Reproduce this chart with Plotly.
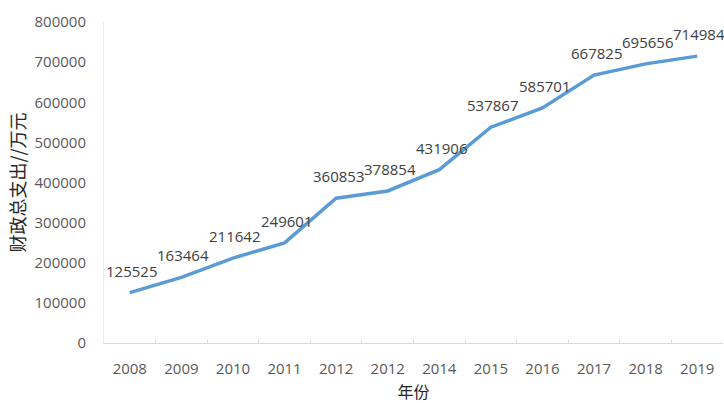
import plotly.graph_objects as go

years = ["2008", "2009", "2010", "2011", "2012", "2012", "2014", "2015", "2016", "2017", "2018", "2019"]
spending = [125525, 163464, 211642, 249601, 360853, 378854, 431906, 537867, 585701, 667825, 695656, 714984]
y_ticks = [0, 100000, 200000, 300000, 400000, 500000, 600000, 700000, 800000]

xpos = list(range(len(years)))

fig = go.Figure()
fig.add_trace(go.Scatter(
    x=xpos, y=spending, mode="lines",
    line=dict(color="#5b9bd5", width=3.5),
    hoverinfo="skip", showlegend=False,
))

for xi, v in zip(xpos, spending):
    fig.add_annotation(
        x=xi, y=v, text=str(v), showarrow=False,
        xanchor="center", yanchor="middle", xshift=2, yshift=22,
        font=dict(family="Open Sans", size=15, color="#404040"),
    )

fig.update_layout(
    width=724, height=403,
    margin=dict(l=104, r=1, t=22, b=60),
    paper_bgcolor="white", plot_bgcolor="white",
    font=dict(family="Open Sans", size=15, color="#595959"),
)
fig.update_xaxes(
    range=[-0.5, len(years) - 0.5],
    tickmode="array", tickvals=xpos, ticktext=years,
    ticks="outside", ticklen=12, tickcolor="rgba(0,0,0,0)",
    showgrid=False, zeroline=False,
    showline=True, linecolor="#d9d9d9", linewidth=1,
    minor=dict(tickmode="array", tickvals=[i + 0.5 for i in xpos[:-1]],
               ticks="inside", ticklen=4, tickcolor="#e0e0e0", showgrid=False),
    title=dict(text="年份", font=dict(family="Noto Sans CJK SC", size=16, color="#262626"), standoff=10),
    tickfont=dict(family="Open Sans", size=15, color="#595959"),
)
fig.update_yaxes(
    range=[0, 800000],
    tickmode="array", tickvals=y_ticks, ticktext=[str(t) for t in y_ticks],
    showgrid=False, zeroline=False,
    showline=True, linecolor="#eeeeee", linewidth=1,
    ticks="outside", ticklen=14, tickcolor="rgba(0,0,0,0)",
    title=dict(text="财政总支出//万元", font=dict(family="Noto Sans CJK SC", size=18, color="#262626"), standoff=4),
    tickfont=dict(family="Open Sans", size=15, color="#595959"),
)

fig.write_html("out.html")
